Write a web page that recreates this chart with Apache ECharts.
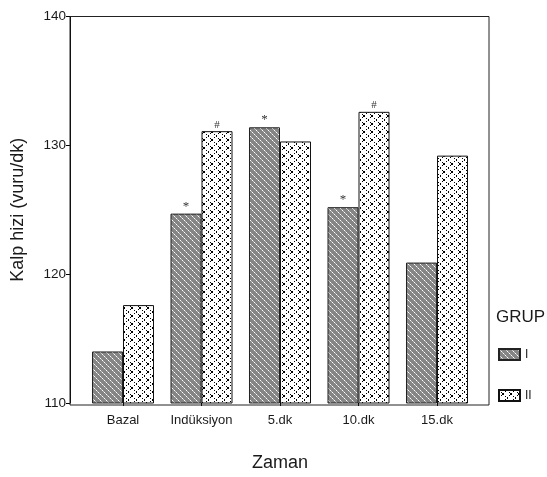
<!DOCTYPE html>
<html>
<head>
<meta charset="utf-8">
<script src="https://cdn.jsdelivr.net/npm/echarts@6/dist/echarts.min.js"></script>
<style>html,body{margin:0;padding:0;background:#fff}#c{width:547px;height:477px}</style>
</head>
<body>
<div id="c"></div>
<script>
var categories = ['Bazal', 'Indüksiyon', '5.dk', '10.dk', '15.dk'];
var groupI = [114.0, 124.7, 131.4, 125.2, 120.9];
var groupII = [117.6, 131.1, 130.3, 132.6, 129.2];
var marksI = ['', '*', '*', '*', ''];
var marksII = ['', '#', '', '#', ''];
var seriesNames = ['I', 'II'];

function makeStripe() {
  var c = document.createElement('canvas');
  c.width = 6; c.height = 6;
  var g = c.getContext('2d');
  g.fillStyle = '#858585';
  g.fillRect(0, 0, 6, 6);
  g.fillStyle = '#ffffff';
  for (var i = 0; i < 6; i += 2) g.fillRect(i, i, 1, 1);
  g.fillStyle = '#c8c8c8';
  for (var j = 1; j < 6; j += 2) g.fillRect(j, j, 1, 1);
  return c;
}
function makeLattice() {
  var c = document.createElement('canvas');
  c.width = 8; c.height = 8;
  var g = c.getContext('2d');
  g.fillStyle = '#ffffff';
  g.fillRect(0, 0, 8, 8);
  g.fillStyle = '#000000';
  for (var i = 0; i < 8; i += 2) { g.fillRect(i, i, 1, 1); g.fillRect(i, 7 - i, 1, 1); }
  g.fillRect(3, 3, 2, 2);
  g.fillRect(0, 0, 1, 1);
  return c;
}

var chart = echarts.init(document.getElementById('c'), null, {renderer: 'canvas'});
var txt = '#1a1a1a';
chart.setOption({
  animation: false,
  textStyle: {fontFamily: 'Liberation Sans, Arial, sans-serif'},
  title: {text: 'GRUP', left: 496, top: 309, padding: 0, textStyle: {fontSize: 17, fontWeight: 'normal', color: txt, fontFamily: 'Liberation Sans'}},
  legend: {
    orient: 'vertical', left: 498, top: 348, padding: 0, itemWidth: 21, itemHeight: 11, itemGap: 28,
    icon: 'rect', data: seriesNames,
    textStyle: {fontSize: 12, color: txt, padding: [0, 0, 0, 0]}
  },
  graphic: [{type: 'rect', shape: {x: 70, y: 16.5, width: 419, height: 388.5}, style: {fill: 'none', stroke: '#222', lineWidth: 1}, silent: true, z: 10}],
  grid: {left: 83.75, right: 70.75, top: 16.5, bottom: 72},
  xAxis: {
    type: 'category', data: categories,
    name: 'Zaman', nameLocation: 'middle', nameGap: 51,
    nameTextStyle: {fontSize: 18, color: txt},
    axisLine: {show: false},
    axisTick: {show: true, alignWithLabel: true, length: 3, lineStyle: {color: '#000'}},
    axisLabel: {fontSize: 13, color: txt, margin: 11, interval: 0}
  },
  yAxis: {
    type: 'value', min: 110, max: 140, interval: 10, offset: 13.75,
    name: 'Kalp hizi (vuru/dk)', nameLocation: 'middle', nameGap: 43, nameRotate: 90,
    nameTextStyle: {fontSize: 18, color: txt},
    axisLine: {show: true, lineStyle: {color: '#000'}},
    axisTick: {show: true, length: 4, lineStyle: {color: '#000'}},
    axisLabel: {fontSize: 13.5, color: txt, margin: 4},
    splitLine: {show: false}
  },
  series: [
    {
      name: seriesNames[0], type: 'bar', data: groupI, barGap: '0%', barCategoryGap: '21%',
      itemStyle: {color: {image: makeStripe(), repeat: 'repeat'}, borderColor: '#222', borderWidth: 1},
      label: {show: true, position: 'top', distance: 1, fontSize: 13, color: '#333', fontFamily: 'Liberation Serif',
        formatter: function (p) { return marksI[p.dataIndex]; }}
    },
    {
      name: seriesNames[1], type: 'bar', data: groupII,
      itemStyle: {color: {image: makeLattice(), repeat: 'repeat'}, borderColor: '#111', borderWidth: 1},
      label: {show: true, position: 'top', distance: 1, fontSize: 11, color: '#333', fontFamily: 'Liberation Serif',
        formatter: function (p) { return marksII[p.dataIndex]; }}
    }
  ]
});
</script>
</body>
</html>
